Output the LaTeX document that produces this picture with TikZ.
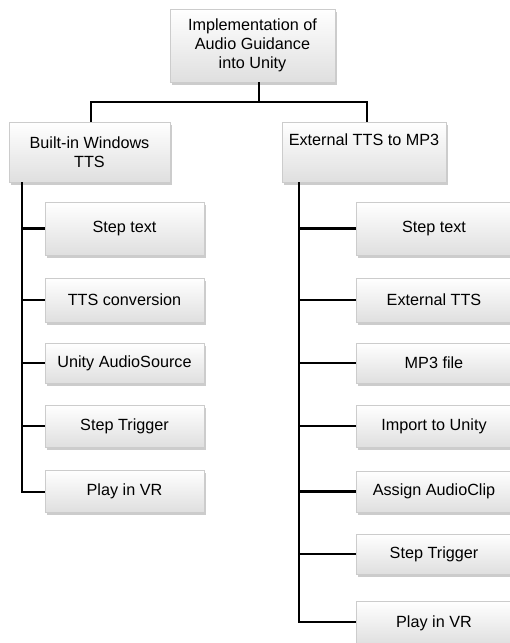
\documentclass[tikz,border=0pt]{standalone}
\usepackage{fontspec}
\setmainfont{Liberation Sans}
\usetikzlibrary{shadows}
\begin{document}
\begin{tikzpicture}[x=1pt,y=-1pt,
  box/.style={draw=gray!40, line width=0.4pt, top color=white, bottom color=gray!25,
    drop shadow={opacity=0.4, shadow xshift=1.5pt, shadow yshift=-2.5pt},
    inner sep=0pt, align=center, font=\fontsize{16.2}{19}\selectfont},
  link/.style={draw=black, line width=2.2pt}]
\useasboundingbox (0,0) rectangle (510,643);
% root
\node[box, minimum width=165pt, minimum height=73pt] (root) at (252.5,45.5) {Implementation of\\Audio Guidance\\into Unity};
% level 1
\node[box, minimum width=161pt, minimum height=60pt] (left) at (89.5,152) {Built-in Windows\\TTS};
\node[box, minimum width=164pt, minimum height=60pt] (right) at (364,152) {External TTS to MP3\\\strut};
% left children
\node[box, minimum width=159pt, minimum height=53pt] (l1) at (124.5,228.5) {Step text};
\node[box, minimum width=159pt, minimum height=44pt] (l2) at (124.5,300) {TTS conversion};
\node[box, minimum width=159pt, minimum height=40pt] (l3) at (124.5,363) {Unity AudioSource};
\node[box, minimum width=159pt, minimum height=42pt] (l4) at (124.5,426) {Step Trigger};
\node[box, minimum width=159pt, minimum height=42pt] (l5) at (124.5,491) {Play in VR};
% right children
\node[box, minimum width=156pt, minimum height=53pt] (r1) at (434,228.5) {Step text};
\node[box, minimum width=156pt, minimum height=44pt] (r2) at (434,300) {External TTS};
\node[box, minimum width=156pt, minimum height=40pt] (r3) at (434,363) {MP3 file};
\node[box, minimum width=156pt, minimum height=42pt] (r4) at (434,426) {Import to Unity};
\node[box, minimum width=156pt, minimum height=41pt] (r5) at (434,491.5) {Assign AudioClip};
\node[box, minimum width=156pt, minimum height=40pt] (r6) at (434,554) {Step Trigger};
\node[box, minimum width=156pt, minimum height=44pt] (r7) at (434,623) {Play in VR};
% connectors
\coordinate (j) at (259,102);
\coordinate (jl) at (91,102);
\coordinate (jr) at (367,102);
\draw[link] (root.south -| j) -- (j);
\draw[link] (left.north -| jl) -- (jl) -- (jr) -- (right.north -| jr);
\coordinate (tl) at (22,492);
\coordinate (tr) at (299,622);
\draw[link] (left.south -| tl) -- (tl) -- (l5.west |- tl);
\foreach \n in {l1,l2,l3,l4} \draw[link] (\n.west -| tl) -- (\n.west);
\draw[link] (right.south -| tr) -- (tr) -- (r7.west |- tr);
\foreach \n in {r1,r2,r3,r4,r5,r6} \draw[link] (\n.west -| tr) -- (\n.west);
\end{tikzpicture}
\end{document}
